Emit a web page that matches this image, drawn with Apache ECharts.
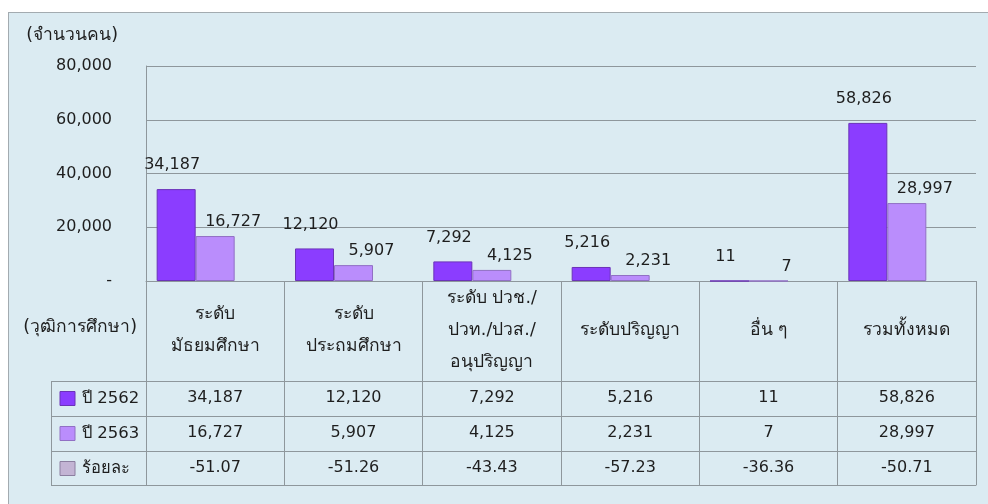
<!DOCTYPE html>
<html>
<head>
<meta charset="utf-8">
<script src="https://cdn.jsdelivr.net/npm/echarts@6/dist/echarts.min.js"></script>
<style>
    html,body{margin:0;padding:0;background:#fff;}
    #frame{position:absolute;left:8px;top:12px;width:990px;height:500px;background:#dbebf2;border:1px solid #a3abb0;}
    #main{position:absolute;left:0;top:0;width:988px;height:504px;}
</style>
</head>
<body>
<div id="frame"></div>
<div id="main"></div>
<script>
// ข้อมูลจากภาพ
const categories=['ระดับ\nมัธยมศึกษา','ระดับ\nประถมศึกษา','ระดับ ปวช./\nปวท./ปวส./\nอนุปริญญา','ระดับปริญญา','อื่น ๆ','รวมทั้งหมด'];
const seriesNames=['ปี 2562','ปี 2563','ร้อยละ'];
const y2562=[34187,12120,7292,5216,11,58826];
const y2563=[16727,5907,4125,2231,7,28997];
const percent=[-51.07,-51.26,-43.43,-57.23,-36.36,-50.71];
const yTicks=[0,20000,40000,60000,80000];

const colors=['#8b3dff','#ba8dfc','#c3b4d4'];
const borders=['#6b33b8','#9170c4','#8c7fa0'];
const font="'DejaVu Sans','Noto Sans',sans-serif";
const lineColor='#8e979c';
const txt='#1e1e1e';
const thaiSize=17.5;

const fmt=function(v){return v.toLocaleString('en-US');};
const fmtPct=function(v){return v.toFixed(2);};

const headerH=100, rowH=35, legendW=95;

const chart=echarts.init(document.getElementById('main'));

// แกน x สำหรับแถวของตาราง
const rowAxis=function(offset,values,f){
    return {
        type:'category',
        data:categories,
        position:'bottom',
        offset:offset,
        axisLine:{show:true,lineStyle:{color:lineColor,width:1}},
        axisTick:{show:false},
        axisLabel:{
            show:values!==null,
            interval:0,
            margin:17,
            verticalAlign:'middle',
            fontFamily:font,fontSize:16,color:txt,
            formatter:function(v,i){return values?f(values[i]):'';}
        }
    };
};

const barSeries=function(i,data,label){
    return {
        name:seriesNames[i],
        type:'bar',
        data:data,
        barWidth:39,
        barGap:'0%',
        clip:true,
        itemStyle:{color:colors[i],borderColor:borders[i],borderWidth:1},
        label:label
    };
};

chart.setOption({
    animation:false,
    grid:{left:146,right:12,top:66,bottom:223},
    xAxis:[
        {
            type:'category',
            data:categories,
            position:'bottom',
            axisLine:{show:true,lineStyle:{color:lineColor,width:1}},
            axisTick:{show:true,interval:0,length:headerH+rowH*3-1,lineStyle:{color:lineColor}},
            axisLabel:{
                interval:0,
                margin:headerH/2-1,
                verticalAlign:'middle',
                lineHeight:32,
                fontFamily:font,fontSize:thaiSize,color:txt
            }
        },
        rowAxis(headerH,y2562,fmt),
        rowAxis(headerH+rowH,y2563,fmt),
        rowAxis(headerH+rowH*2,percent,fmtPct),
        rowAxis(headerH+rowH*3-1,null,null)
    ],
    yAxis:{
        type:'value',
        min:yTicks[0],
        max:yTicks[yTicks.length-1],
        interval:yTicks[1]-yTicks[0],
        name:'(จำนวนคน)',
        nameLocation:'end',
        nameGap:22,
        nameTextStyle:{fontFamily:font,fontSize:thaiSize,color:txt,align:'right',padding:[0,28,0,0]},
        axisLine:{show:true,lineStyle:{color:lineColor}},
        axisTick:{show:false},
        splitLine:{lineStyle:{color:lineColor}},
        axisLabel:{
            margin:34,
            padding:[0,0,3,0],
            fontFamily:font,fontSize:16,color:txt,
            formatter:function(v){return v===0?'-':fmt(v);}
        }
    },
    series:[
        barSeries(0,y2562,{show:true,position:'top',offset:[-4,-11],fontFamily:font,fontSize:16,color:txt,formatter:function(p){return fmt(p.value);}}),
        barSeries(1,y2563,{show:true,position:'top',offset:[18,-1],fontFamily:font,fontSize:16,color:txt,formatter:function(p){return fmt(p.value);}}),
        barSeries(2,percent,{show:false})
    ]
});

// คอลัมน์คำอธิบาย (legend) ทางซ้ายของตาราง
const c0=chart.convertToPixel({xAxisIndex:0},categories[0]);
const c1=chart.convertToPixel({xAxisIndex:0},categories[1]);
const tableLeft=c0-(c1-c0)/2;
const base=chart.convertToPixel({yAxisIndex:0},0);
const legLeft=tableLeft-legendW;
const rowTop=base+headerH;
const gfx=[];
const ls={stroke:lineColor,lineWidth:1};
for(let r=0;r<=3;r++){
    const y=Math.round(rowTop+rowH*r-(r===3?1:0))+0.5;
    gfx.push({type:'line',shape:{x1:legLeft,y1:y,x2:tableLeft,y2:y},style:ls,silent:true});
}
gfx.push({type:'line',shape:{x1:Math.round(legLeft)+0.5,y1:rowTop,x2:Math.round(legLeft)+0.5,y2:rowTop+rowH*3-1},style:ls,silent:true});
seriesNames.forEach(function(n,r){
    const cy=rowTop+rowH*r+rowH/2;
    gfx.push({type:'rect',shape:{x:legLeft+9,y:cy-7,width:15,height:14},style:{fill:colors[r],stroke:borders[r],lineWidth:1},silent:true});
    gfx.push({type:'text',x:legLeft+31,y:cy,style:{text:n,font:'16.5px '+font,fill:txt,verticalAlign:'middle',align:'left'},silent:true});
});
gfx.push({type:'text',x:tableLeft-9,y:base+headerH/2-4,style:{text:'(วุฒิการศึกษา)',font:thaiSize+'px '+font,fill:txt,verticalAlign:'middle',align:'right'},silent:true});
chart.setOption({graphic:gfx});
</script>
</body>
</html>
